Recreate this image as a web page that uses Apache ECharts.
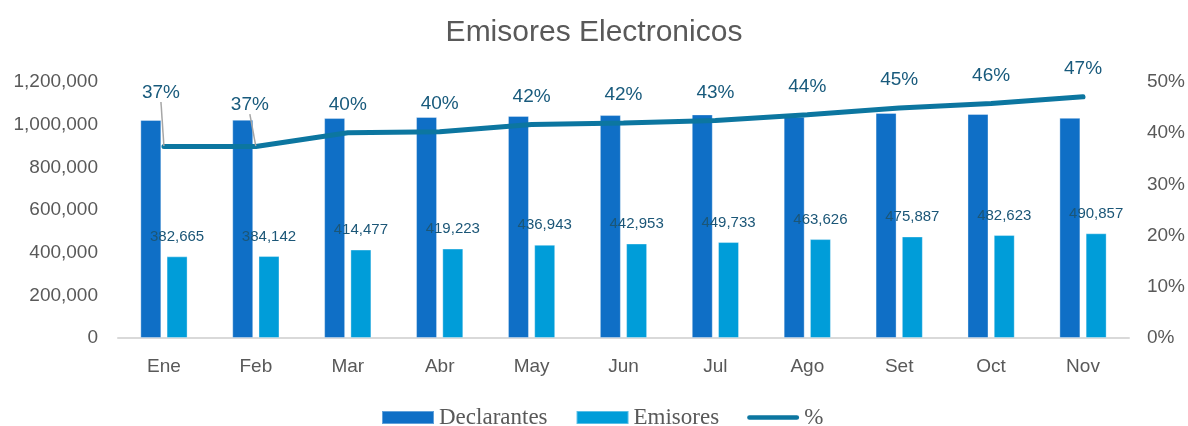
<!DOCTYPE html>
<html>
<head>
<meta charset="utf-8">
<script src="https://cdn.jsdelivr.net/npm/echarts@6/dist/echarts.min.js"></script>
<style>
  html, body { margin: 0; padding: 0; background: #fff; }
  #chart { width: 1188px; height: 426px; }
</style>
</head>
<body>
<div id="chart"></div>
<script>
const months = ['Ene', 'Feb', 'Mar', 'Abr', 'May', 'Jun', 'Jul', 'Ago', 'Set', 'Oct', 'Nov'];
const declarantes = [1022000, 1023000, 1031000, 1036000, 1041000, 1045000, 1048000, 1037000, 1055000, 1050000, 1032000];
const emisores = [382665, 384142, 414477, 419223, 436943, 442953, 449733, 463626, 475887, 482623, 490857];
const porcentaje = [37.4, 37.4, 40.1, 40.3, 41.7, 42.0, 42.5, 43.6, 44.9, 45.8, 47.1];

// labels of Ene and Feb are pushed up, with a guide line back to the point
const pctLabelShift = [[-3, -26], [-6, -14]];

const chart = echarts.init(document.getElementById('chart'));

const axisText = { color: '#595959', fontFamily: 'Liberation Sans, Arial', fontSize: 19 };
const guide = { show: true, lineStyle: { color: '#a6a6a6', width: 1.5 } };

chart.setOption({
  animation: false,
  title: {
    text: 'Emisores Electronicos',
    left: 'center',
    top: 13,
    textStyle: { color: '#595959', fontFamily: 'Liberation Sans, Arial', fontSize: 30, fontWeight: 'normal' }
  },
  legend: {
    top: 406,
    left: 381,
    padding: 0,
    itemWidth: 52,
    itemHeight: 13,
    itemGap: 28,
    textStyle: { color: '#595959', fontFamily: 'Liberation Serif, serif', fontSize: 23 },
    data: [
      { name: 'Declarantes', icon: 'rect' },
      { name: 'Emisores', icon: 'rect' },
      { name: '%', icon: 'path://M2.5,0 L52.5,0 A2.5,2.5 0 0 1 52.5,5 L2.5,5 A2.5,2.5 0 0 1 2.5,0 Z' }
    ]
  },
  grid: { left: 118, right: 56, top: 82, bottom: 88 },
  xAxis: {
    type: 'category',
    data: months,
    axisTick: { show: false },
    axisLine: { lineStyle: { color: '#d9d9d9', width: 2 } },
    axisLabel: Object.assign({ margin: 19 }, axisText)
  },
  yAxis: [
    {
      type: 'value',
      min: 0,
      max: 1200000,
      interval: 200000,
      splitLine: { show: false },
      axisLine: { show: false },
      axisTick: { show: false },
      axisLabel: Object.assign({
        margin: 20,
        formatter: (v) => v.toLocaleString('en-US')
      }, axisText)
    },
    {
      type: 'value',
      min: 0,
      max: 50,
      interval: 10,
      splitLine: { show: false },
      axisLine: { show: false },
      axisTick: { show: false },
      axisLabel: Object.assign({ margin: 18, formatter: '{value}%' }, axisText)
    }
  ],
  series: [
    {
      name: 'Declarantes',
      type: 'bar',
      barWidth: 21,
      barGap: '25%',
      itemStyle: { color: '#0f6fc6', borderColor: 'rgba(255,255,255,0.35)', borderWidth: 1 },
      data: declarantes
    },
    {
      name: 'Emisores',
      type: 'bar',
      barWidth: 21,
      itemStyle: { color: '#009dd9', borderColor: 'rgba(255,255,255,0.35)', borderWidth: 1 },
      label: {
        show: true,
        position: 'top',
        distance: 12,
        color: '#1b5677',
        fontFamily: 'Liberation Sans, Arial',
        fontSize: 15,
        formatter: (p) => p.value.toLocaleString('en-US')
      },
      data: emisores
    },
    {
      name: '%',
      type: 'line',
      yAxisIndex: 1,
      symbol: 'circle',
      symbolSize: 1,
      showSymbol: true,
      z: 5,
      lineStyle: { color: '#0c76a0', width: 5, cap: 'round' },
      itemStyle: { color: '#0c76a0' },
      label: {
        show: true,
        position: 'top',
        distance: 18,
        color: '#185a7c',
        fontFamily: 'Liberation Sans, Arial',
        fontSize: 19,
        formatter: (p) => Math.round(p.value) + '%'
      },
      labelLayout: (params) => {
        const s = pctLabelShift[params.dataIndex];
        return s ? { dx: s[0], dy: s[1] } : {};
      },
      data: porcentaje.map((v, i) => pctLabelShift[i] ? { value: v, labelLine: guide } : v)
    }
  ]
});
</script>
</body>
</html>
